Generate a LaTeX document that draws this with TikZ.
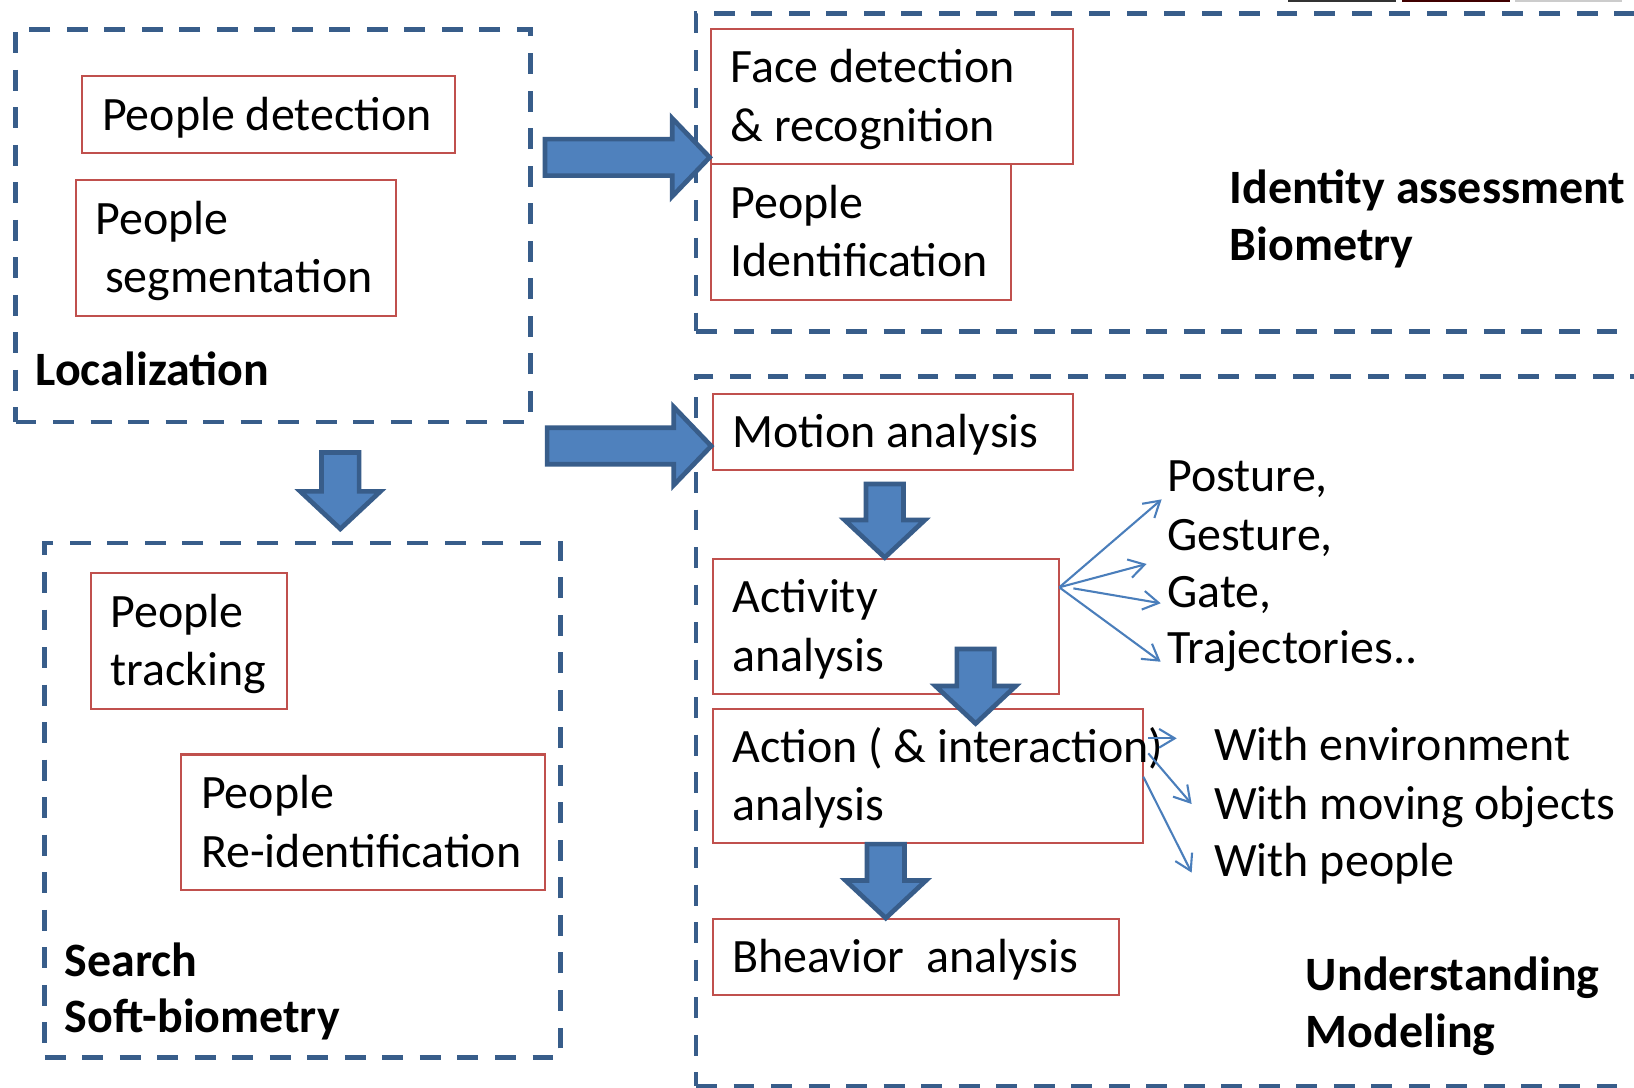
\documentclass[tikz,border=0pt]{standalone}
\usepackage{fontspec}
\setmainfont{Carlito}
\usetikzlibrary{calc,arrows.meta}
\definecolor{bfill}{HTML}{4F81BD}
\definecolor{bline}{HTML}{385D8A}
\definecolor{rline}{HTML}{C0504D}
\definecolor{tblue}{HTML}{4A7EBB}
\newcommand\ms{\rule[-10pt]{0pt}{50pt}}
\newcommand\myline[1]{\mbox{\spaceskip=0pt\xspaceskip=0pt\relax\ms #1}}
\newcommand\barrowR[2]{\draw[barrow] let \p1=(#1), \p2=(#2) in
  (\x1,\y1+17.5pt) -- (\x2-36pt,\y1+17.5pt) -- (\x2-36pt,\y1+37.5pt) -- (\x2,\y2)
  -- (\x2-36pt,\y1-37.5pt) -- (\x2-36pt,\y1-17.5pt) -- (\x1,\y1-17.5pt) -- cycle;}
\newcommand\barrowD[2]{\draw[barrow] let \p1=(#1), \p2=(#2) in
  (\x1-18pt,\y1) -- (\x1-18pt,\y2+36pt) -- (\x1-38.5pt,\y2+36pt) -- (\x2,\y2)
  -- (\x1+38.5pt,\y2+36pt) -- (\x1+18pt,\y2+36pt) -- (\x1+18pt,\y1) -- cycle;}
\begin{document}
\begin{tikzpicture}[x=1pt,y=-1pt,
  rbox/.style={draw=rline, line width=2pt, inner xsep=19pt, inner ysep=0pt, outer sep=0pt, anchor=north west, align=left, font=\fontsize{46}{56}\selectfont},
  dbox/.style={draw=bline, line width=4.5pt, dash pattern=on 20pt off 16pt, anchor=north west, inner sep=0pt, outer sep=0pt},
  lbl/.style={anchor=base west, inner sep=0pt, font=\fontsize{46}{56}\selectfont\bfseries},
  txt/.style={anchor=base west, inner sep=0pt, font=\fontsize{46}{56}\selectfont},
  barrow/.style={fill=bfill, draw=bline, line width=4.5pt, line join=miter},
  tarrow/.style={draw=tblue, line width=2pt, -{Straight Barb[length=15pt,width=18pt]}}
]
\clip (0,0) rectangle (1568,1044);
\fill[white] (0,0) rectangle (1568,1044);
% top edge fragment
\fill[black!80] (1236,0) rectangle (1340,2);
\fill[black!75!red] (1345,0) rectangle (1449,2);
\fill[black!20] (1454,0) rectangle (1556,2);

% dashed group boxes
\node[dbox, minimum width=494pt, minimum height=377pt] (loc) at (15,28) {};
\node[dbox, minimum width=495pt, minimum height=494pt] (search) at (43,521) {};
\node[dbox, minimum width=1000pt, minimum height=305pt] (ida) at (668,13) {};
\node[dbox, minimum width=1000pt, minimum height=680.5pt] (und) at (668,361.5) {};

% red boxes
\node[rbox, minimum width=358pt, minimum height=74pt, text width=320pt] (det) at (79,73) {\myline{People detection}};
\node[rbox, minimum width=307pt, minimum height=130pt, text width=269pt] (seg) at (73,173) {\myline{People}\\\myline{\hspace*{9pt}segmentation}};
\node[rbox, minimum width=348pt, minimum height=129pt, text width=310pt] (face) at (682,28) {\myline{Face detection}\\\myline{\& recognition}};
\node[rbox, minimum width=288pt, minimum height=131pt, text width=250pt] (pid) at (682,157) {\myline{People}\\\myline{Identification}};
\node[rbox, minimum width=346pt, minimum height=73pt, text width=308pt] (motion) at (684,378) {\myline{Motion analysis}};
\node[rbox, minimum width=332pt, minimum height=130pt, text width=294pt] (act) at (684,536) {\myline{Activity}\\\myline{analysis}};
\node[rbox, minimum width=413pt, minimum height=129pt, text width=375pt] (action) at (684,680) {\myline{Action ( \& interaction)}\\\myline{analysis}};
\node[rbox, minimum width=390pt, minimum height=73pt, text width=352pt] (beh) at (684,882) {\myline{Bheavior~~analysis}};
\node[rbox, minimum width=188pt, minimum height=130pt, text width=150pt] (track) at (87,550) {\myline{People}\\\myline{tracking}};
\node[rbox, minimum width=349pt, minimum height=130pt, text width=311pt] (reid) at (174,724) {\myline{People}\\\myline{Re-identification}};

% group labels
\node[lbl] (locl) at (34,370) {Localization};
\node[lbl] (idl1) at (1180,195) {Identity assessment};
\node[lbl] (idl2) at (1180,250) {Biometry};
\node[lbl] (undl1) at (1253,950) {Understanding};
\node[lbl] (undl2) at (1253,1005) {Modeling};
\node[lbl] (srl1) at (62,937) {Search};
\node[lbl] (srl2) at (62,991) {Soft-biometry};

% side texts
\node[txt] (post) at (1120,472) {Posture,};
\node[txt] (gest) at (1120,528) {Gesture,};
\node[txt] (gate) at (1120,583) {Gate,};
\node[txt] (traj) at (1120,637) {Trajectories..};
\node[txt] (wenv) at (1165,730) {With environment};
\node[txt] (wmov) at (1165,786) {With moving objects};
\node[txt] (wppl) at (1165,841) {With people};

% block arrows
\coordinate (a1s) at (523,151);   \coordinate (a1e) at (681,151);
\coordinate (a2s) at (525,428);   \coordinate (a2e) at (682.5,428);
\coordinate (d0s) at (326.6,434.3); \coordinate (d0e) at (326.6,507.5);
\coordinate (d1s) at (849,464.5); \coordinate (d1e) at (849,535);
\coordinate (d2s) at (936.2,622.8); \coordinate (d2e) at (936.2,694.3);
\coordinate (d3s) at (850,810);   \coordinate (d3e) at (850,881);
\barrowR{a1s}{a1e}
\barrowR{a2s}{a2e}
\barrowD{d0s}{d0e}
\barrowD{d1s}{d1e}
\barrowD{d2s}{d2e}
\barrowD{d3s}{d3e}

% thin arrows from activity
\coordinate (aout) at (1016.5,563.6);
\coordinate (gates) at (1030,564.6);
\coordinate (tpost) at (1114.7,479.2);
\coordinate (tgest) at (1100.3,541.2);
\coordinate (tgate) at (1113.8,578.9);
\coordinate (ttraj) at (1113.8,635);
\draw[tarrow] (aout) -- (tpost);
\draw[tarrow] (aout) -- (tgest);
\draw[tarrow] (gates) -- (tgate);
\draw[tarrow] (aout) -- (ttraj);

% thin arrows from action
\coordinate (envs) at (1101.9,708.5); \coordinate (enve) at (1129.2,708.5);
\coordinate (movs) at (1101.9,722.9); \coordinate (move) at (1143.5,771.5);
\coordinate (ppls) at (1097.1,745.3); \coordinate (pple) at (1143.5,837.4);
\draw[tarrow] (envs) -- (enve);
\draw[tarrow] (movs) -- (move);
\draw[tarrow] (ppls) -- (pple);
\end{tikzpicture}
\end{document}
